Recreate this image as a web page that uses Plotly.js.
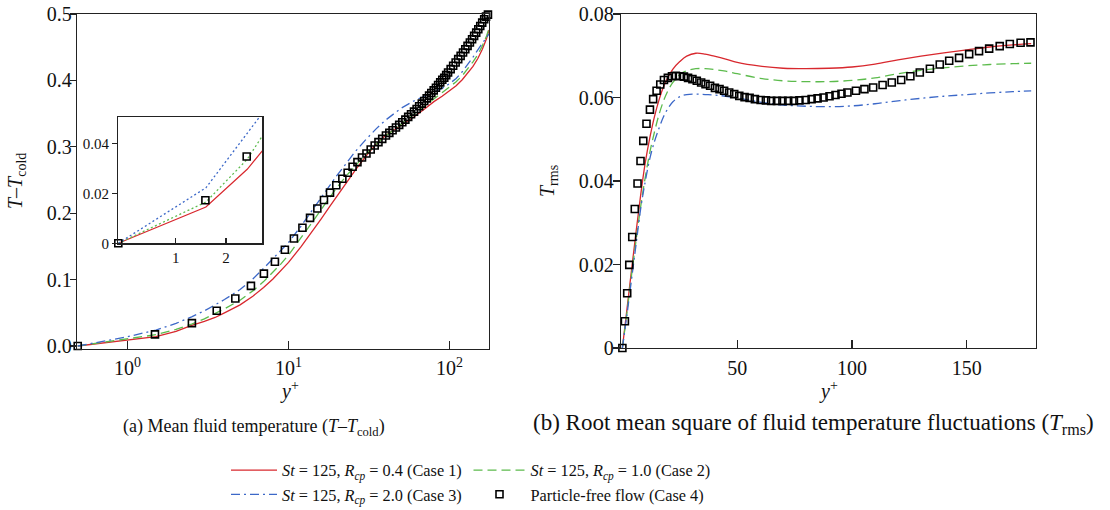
<!DOCTYPE html>
<html>
<head>
<meta charset="utf-8">
<script src="https://cdn.plot.ly/plotly-3.0.1.min.js"></script>
<style>html,body{margin:0;padding:0;background:#fff;}#chart{width:1110px;height:510px;}</style>
</head>
<body>
<div id="chart"></div>
<script>
// ---------- (a) mean fluid temperature, log y+ ----------
const yPlusLines = [0.49, 0.8, 1.0, 1.5, 2.0, 2.5, 3.0, 3.5, 4.0, 5.0, 6.0, 7.0, 8.0, 9.0, 10.0, 12.0, 14.0, 16.0, 18.0, 20.0, 23.0, 26.0, 30.0, 35.0, 40.0, 50.0, 60.0, 70.0, 80.0, 90.0, 100.0, 110.0, 120.0, 130.0, 140.0, 150.0, 160.0, 170.0, 176.0];
const meanCase1 = [0, 0.006, 0.009, 0.014, 0.022, 0.031, 0.037, 0.043, 0.050, 0.062, 0.075, 0.088, 0.101, 0.114, 0.126, 0.150, 0.172, 0.192, 0.210, 0.226, 0.247, 0.265, 0.285, 0.304, 0.317, 0.332, 0.345, 0.357, 0.368, 0.376, 0.384, 0.392, 0.401, 0.411, 0.421, 0.433, 0.447, 0.463, 0.476];
const meanCase2 = [0, 0.007, 0.011, 0.017, 0.025, 0.033, 0.041, 0.049, 0.056, 0.069, 0.083, 0.097, 0.111, 0.124, 0.137, 0.163, 0.186, 0.206, 0.224, 0.239, 0.257, 0.272, 0.288, 0.304, 0.316, 0.334, 0.349, 0.362, 0.373, 0.382, 0.390, 0.398, 0.407, 0.417, 0.428, 0.439, 0.452, 0.467, 0.478];
const meanCase3 = [0, 0.009, 0.014, 0.024, 0.034, 0.044, 0.053, 0.062, 0.070, 0.085, 0.101, 0.117, 0.131, 0.144, 0.156, 0.181, 0.204, 0.224, 0.241, 0.257, 0.276, 0.293, 0.310, 0.327, 0.340, 0.358, 0.369, 0.376, 0.382, 0.388, 0.395, 0.403, 0.413, 0.424, 0.435, 0.446, 0.456, 0.465, 0.470];
const yPlusMarkersA = [0.49, 1.48, 2.51, 3.58, 4.67, 5.84, 7.03, 8.23, 9.49, 10.8, 12.2, 13.6, 15.1, 16.6, 18.1, 19.8, 21.6, 23.3, 25.0, 26.8, 28.6, 30.5, 32.4, 34.3, 36.2, 38.2, 40.3, 42.3, 44.3, 46.5, 48.7, 50.9, 53.2, 55.4, 57.7, 60.2, 62.5, 64.8, 67.3, 69.7, 72.2, 74.7, 77.1, 79.8, 82.4, 85.0, 87.6, 90.2, 92.8, 95.4, 98.0, 101.7, 105.4, 109.2, 113.3, 117.3, 121.4, 125.4, 129.5, 133.9, 138.2, 142.3, 146.6, 151.0, 155.3, 159.7, 164.3, 168.7, 173.4, 177.7];
const meanCase4 = [0, 0.0175, 0.0345, 0.053, 0.0715, 0.0905, 0.109, 0.127, 0.145, 0.162, 0.178, 0.193, 0.207, 0.220, 0.231, 0.242, 0.252, 0.261, 0.270, 0.277, 0.284, 0.290, 0.296, 0.302, 0.307, 0.312, 0.317, 0.321, 0.325, 0.329, 0.333, 0.337, 0.341, 0.345, 0.349, 0.353, 0.357, 0.361, 0.365, 0.369, 0.373, 0.377, 0.381, 0.385, 0.389, 0.393, 0.397, 0.401, 0.404, 0.408, 0.412, 0.417, 0.422, 0.427, 0.432, 0.437, 0.442, 0.447, 0.452, 0.457, 0.462, 0.467, 0.472, 0.477, 0.482, 0.487, 0.492, 0.496, 0.499, 0.500];

// ---------- inset of (a), linear y+ ----------
const insetX = [-0.14, 1.6, 2.42, 2.72];
const insetCase1 = [0, 0.0145, 0.0296, 0.0370];
const insetCase2 = [0, 0.0165, 0.0336, 0.0429];
const insetCase3 = [0, 0.0222, 0.0440, 0.0520];
const insetMarkerX = [-0.14, 1.59, 2.41];
const insetCase4 = [0, 0.0172, 0.0347];

// ---------- (b) T_rms ----------
const yPlusRms = [0, 2, 4, 6, 8, 10, 12, 14, 16, 18, 20, 22, 25, 28, 32, 36, 40, 45, 50, 60, 70, 80, 90, 100, 110, 120, 130, 140, 150, 160, 170, 178];
const rmsCase1 = [0, 0.0093, 0.0187, 0.028, 0.0368, 0.0445, 0.0505, 0.0555, 0.0595, 0.0627, 0.065, 0.0668, 0.0686, 0.0699, 0.0706, 0.0704, 0.0699, 0.0692, 0.0684, 0.0675, 0.0670, 0.0669, 0.0670, 0.0673, 0.0680, 0.0690, 0.0699, 0.0707, 0.0714, 0.0721, 0.0726, 0.0729];
const rmsCase2 = [0, 0.0085, 0.0175, 0.026, 0.034, 0.041, 0.047, 0.0518, 0.056, 0.0593, 0.0618, 0.0636, 0.0655, 0.0664, 0.0669, 0.0669, 0.0667, 0.0663, 0.0657, 0.0646, 0.0640, 0.0638, 0.0638, 0.0641, 0.0647, 0.0657, 0.0665, 0.0671, 0.0676, 0.0679, 0.0681, 0.0682];
const rmsCase3 = [0, 0.008, 0.0165, 0.025, 0.0335, 0.040, 0.0455, 0.0495, 0.0527, 0.0555, 0.0575, 0.059, 0.0602, 0.0607, 0.0608, 0.0607, 0.0606, 0.0603, 0.0599, 0.0589, 0.0582, 0.0579, 0.0578, 0.0580, 0.0585, 0.0592, 0.0598, 0.0603, 0.0607, 0.0611, 0.0614, 0.0616];
const yPlusMarkersB = [0, 1.1, 2.1, 3.0, 4.3, 5.4, 6.6, 7.9, 9.1, 10.5, 12.0, 13.4, 14.9, 16.5, 18.1, 19.8, 21.6, 23.3, 25.0, 26.8, 28.6, 30.5, 32.4, 34.3, 36.2, 38.2, 40.3, 42.3, 44.3, 46.5, 48.7, 50.9, 53.2, 55.4, 57.7, 60.2, 62.5, 64.8, 67.3, 69.7, 72.2, 74.7, 77.1, 79.8, 82.4, 85.0, 87.6, 90.2, 92.8, 95.4, 98.0, 101.7, 105.4, 109.2, 113.3, 117.3, 121.4, 125.4, 129.5, 133.9, 138.2, 142.3, 146.6, 151.0, 155.3, 159.7, 164.3, 168.7, 173.4, 177.7];
const rmsCase4 = [0, 0.0064, 0.0131, 0.0199, 0.0266, 0.0333, 0.0394, 0.0448, 0.0496, 0.0537, 0.0571, 0.0596, 0.0616, 0.0631, 0.0642, 0.0647, 0.0651, 0.0652, 0.0651, 0.0650, 0.0647, 0.0644, 0.0640, 0.0636, 0.0632, 0.0628, 0.0623, 0.0620, 0.0616, 0.0612, 0.0608, 0.0604, 0.0601, 0.0599, 0.0596, 0.0594, 0.0593, 0.0592, 0.0592, 0.0592, 0.0592, 0.0592, 0.0593, 0.0594, 0.0596, 0.0598, 0.0600, 0.0603, 0.0606, 0.0609, 0.0612, 0.0616, 0.0620, 0.0624, 0.0630, 0.0636, 0.0642, 0.0651, 0.0660, 0.0669, 0.0679, 0.0688, 0.0695, 0.0704, 0.0711, 0.0717, 0.0723, 0.0728, 0.0731, 0.0732];

// ---------- labels ----------
const caseNames = [
  '<i>St</i> = 125, <i>R</i><sub><i>cp</i></sub> = 0.4 (Case 1)',
  '<i>St</i> = 125, <i>R</i><sub><i>cp</i></sub> = 1.0 (Case 2)',
  '<i>St</i> = 125, <i>R</i><sub><i>cp</i></sub> = 2.0 (Case 3)',
  'Particle-free flow (Case 4)'
];
const logTickVals = [1, 10, 100];
const logTickText = ['10<sup>0</sup>', '10<sup>1</sup>', '10<sup>2</sup>'];
const meanTickVals = [0, 0.1, 0.2, 0.3, 0.4, 0.5];
const meanTickText = ['0.0', '0.1', '0.2', '0.3', '0.4', '0.5'];
const rmsTickVals = [0, 0.02, 0.04, 0.06, 0.08];
const rmsTickText = ['0', '0.02', '0.04', '0.06', '0.08'];
const rmsXTickVals = [50, 100, 150];
const insetXTickVals = [1, 2];
const insetYTickVals = [0, 0.02, 0.04];
const insetYTickText = ['0', '0.02', '0.04'];
const titleYPlus = '<i>y</i><sup>+</sup>';
const titleMean = '<i>T</i>–<i>T</i><sub>cold</sub>';
const titleRms = '<i>T</i><sub>rms</sub>';
const captionA = '(a) Mean fluid temperature (<i>T</i>–<i>T</i><sub>cold</sub>)';
const captionB = '(b) Root mean square of fluid temperature fluctuations (<i>T</i><sub>rms</sub>)';

// ---------- styles ----------
const RED = '#d8282e', GREEN = '#5cbb4c', BLUE = '#3c68c8';
const FONT = 'Liberation Serif, Times New Roman, serif';
const solid = {color: RED, width: 1.3};
const dashed = {color: GREEN, width: 1.3, dash: '9px,5px'};
const dashdot = {color: BLUE, width: 1.3, dash: '9px,4px,2px,4px'};
const sq = {symbol: 'square-open', size: 7, color: '#000', line: {width: 1.6, color: '#000'}};

const traces = [
  {x: yPlusLines, y: meanCase1, mode: 'lines', line: solid, name: caseNames[0], legend: 'legend', xaxis: 'x', yaxis: 'y'},
  {x: yPlusLines, y: meanCase2, mode: 'lines', line: dashed, name: caseNames[1], legend: 'legend2', xaxis: 'x', yaxis: 'y'},
  {x: yPlusLines, y: meanCase3, mode: 'lines', line: dashdot, name: caseNames[2], legend: 'legend', xaxis: 'x', yaxis: 'y'},
  {x: yPlusMarkersA, y: meanCase4, mode: 'markers', marker: sq, name: caseNames[3], legend: 'legend2', xaxis: 'x', yaxis: 'y', cliponaxis: false},

  {x: insetX, y: insetCase1, mode: 'lines', line: {color: RED, width: 1.2}, showlegend: false, xaxis: 'x3', yaxis: 'y3'},
  {x: insetX, y: insetCase2, mode: 'lines', line: {color: GREEN, width: 1.3, dash: '2px,2.5px'}, showlegend: false, xaxis: 'x3', yaxis: 'y3'},
  {x: insetX, y: insetCase3, mode: 'lines', line: {color: BLUE, width: 1.3, dash: '2px,2.5px'}, showlegend: false, xaxis: 'x3', yaxis: 'y3'},
  {x: insetMarkerX, y: insetCase4, mode: 'markers', marker: sq, showlegend: false, xaxis: 'x3', yaxis: 'y3', cliponaxis: false},

  {x: yPlusRms, y: rmsCase1, mode: 'lines', line: Object.assign({shape: 'spline'}, solid), showlegend: false, xaxis: 'x2', yaxis: 'y2'},
  {x: yPlusRms, y: rmsCase2, mode: 'lines', line: Object.assign({shape: 'spline'}, dashed), showlegend: false, xaxis: 'x2', yaxis: 'y2'},
  {x: yPlusRms, y: rmsCase3, mode: 'lines', line: Object.assign({shape: 'spline'}, dashdot), showlegend: false, xaxis: 'x2', yaxis: 'y2'},
  {x: yPlusMarkersB, y: rmsCase4, mode: 'markers', marker: sq, showlegend: false, xaxis: 'x2', yaxis: 'y2', cliponaxis: false}
];

const W = 1110, H = 510;
const px = v => v / W, py = v => (H - v) / H;
const axisBase = {showline: true, mirror: true, linecolor: '#222', linewidth: 1.3, showgrid: false, zeroline: false,
  automargin: false, ticks: 'outside', tickcolor: '#222', tickwidth: 1.2, tickfont: {family: FONT, size: 20, color: '#111'}};
const ann = (text, x, y, size, angle) => ({text: text, xref: 'paper', yref: 'paper', x: px(x), y: py(y), showarrow: false,
  xanchor: 'center', yanchor: 'middle', textangle: angle || 0, font: {family: FONT, size: size, color: '#111'}});

const layout = {
  width: W, height: H, margin: {l: 0, r: 0, t: 0, b: 0, autoexpand: false},
  paper_bgcolor: '#fff', plot_bgcolor: 'rgba(0,0,0,0)',
  font: {family: FONT, color: '#111'},
  showlegend: true,
  xaxis: Object.assign({}, axisBase, {type: 'log', domain: [px(77), px(489)], range: [Math.log10(0.485), Math.log10(176)],
    tickvals: logTickVals, ticktext: logTickText, ticks: 'inside', ticklen: 8, ticklabelstandoff: 1, anchor: 'y'}),
  yaxis: Object.assign({}, axisBase, {domain: [py(349), py(14)], range: [-0.0045, 0.5], tickvals: meanTickVals, ticktext: meanTickText,
    ticklen: 6, ticklabelstandoff: -6, anchor: 'x'}),
  xaxis2: Object.assign({}, axisBase, {domain: [px(621), px(1036)], range: [-0.6, 180.1], tickvals: rmsXTickVals,
    ticks: 'inside', ticklen: 8, ticklabelstandoff: 2, anchor: 'y2'}),
  yaxis2: Object.assign({}, axisBase, {domain: [py(348), py(14)], range: [0, 0.08], tickvals: rmsTickVals, ticktext: rmsTickText,
    ticklen: 7, ticklabelstandoff: -5, anchor: 'x2'}),
  xaxis3: Object.assign({}, axisBase, {domain: [px(118.3), px(262.3)], range: [-0.14, 2.72], tickvals: insetXTickVals,
    ticks: 'inside', ticklen: 5, anchor: 'y3', tickfont: {family: FONT, size: 15, color: '#111'}}),
  yaxis3: Object.assign({}, axisBase, {domain: [py(243.3), py(117.3)], range: [0, 0.0504], tickvals: insetYTickVals, ticktext: insetYTickText,
    ticklen: 5, anchor: 'x3', tickfont: {family: FONT, size: 15, color: '#111'}}),
  legend: {x: px(226), y: py(453), xanchor: 'left', yanchor: 'top', orientation: 'v', bgcolor: 'rgba(0,0,0,0)',
    font: {family: FONT, size: 16.3, color: '#111'}, itemwidth: 46, tracegroupgap: 0, traceorder: 'normal'},
  legend2: {x: px(468.5), y: py(453), xanchor: 'left', yanchor: 'top', orientation: 'v', bgcolor: 'rgba(0,0,0,0)',
    font: {family: FONT, size: 16.3, color: '#111'}, itemwidth: 52, tracegroupgap: 0, traceorder: 'normal'},
  annotations: [
    ann(titleYPlus, 289, 391, 20),
    ann(titleYPlus, 828, 390, 20),
    ann(titleMean, 17, 181, 20, -90),
    ann(titleRms, 549, 181, 20, -90),
    ann(captionA, 254, 427, 18),
    ann(captionB, 814, 424, 23)
  ]
};

Plotly.newPlot('chart', traces, layout, {staticPlot: true, displayModeBar: false});
</script>
</body>
</html>
